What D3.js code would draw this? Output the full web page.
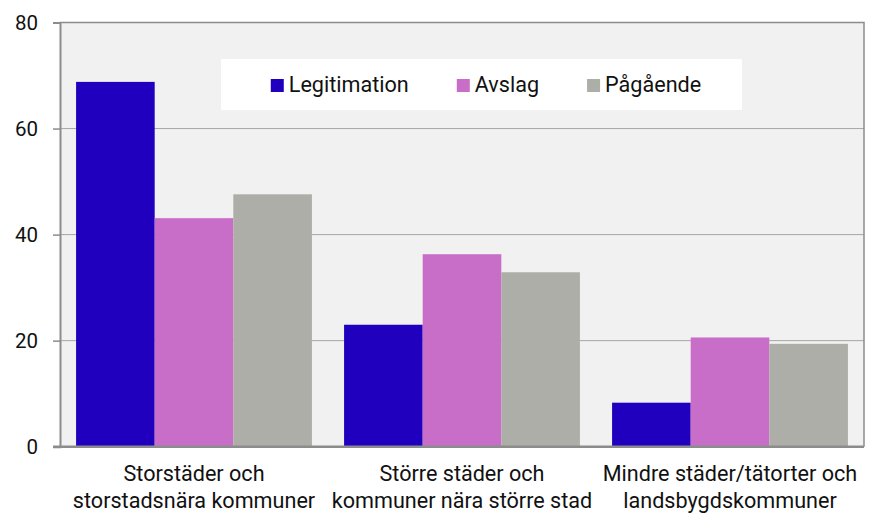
<!DOCTYPE html>
<html><head><meta charset="utf-8">
<script src="https://cdn.jsdelivr.net/npm/d3@7"></script>
<style>
html,body{margin:0;padding:0;background:#fff;}
svg{display:block;font-family:Roboto, "Noto Sans", sans-serif;}
</style></head>
<body>
<svg id="chart" width="871" height="513"></svg>
<script>
const categories = [
  ["Storstäder och", "storstadsnära kommuner"],
  ["Större städer och", "kommuner nära större stad"],
  ["Mindre städer/tätorter och", "landsbygdskommuner"]
];
const seriesNames = ["Legitimation", "Avslag", "Pågående"];
const legitimation = [68.8, 23.0, 8.3];
const avslag = [43.1, 36.3, 20.6];
const pagaende = [47.6, 32.9, 19.4];
const yTicks = [0, 20, 40, 60, 80];
const colors = ["#2000BE", "#C86EC8", "#AEAEA8"];

const seriesValues = [legitimation, avslag, pagaende];
const data = categories.map((c, i) => ({
  key: i,
  values: seriesNames.map((s, j) => ({series: s, value: seriesValues[j][i], color: colors[j]}))
}));

const svg = d3.select("#chart");
const L = 60, R = 864, T = 22.5, B = 446.7;

const x0 = d3.scaleBand().domain(d3.range(categories.length)).range([L, R])
  .paddingInner(0.12).paddingOuter(0.06);
const x1 = d3.scaleBand().domain(seriesNames).range([0, x0.bandwidth()]).padding(0);
const y = d3.scaleLinear().domain([0, 80]).range([B, T]);

// plot background
svg.append("rect").attr("x", L).attr("y", T).attr("width", R - L).attr("height", B - T)
  .attr("fill", "#F1F1F1");

// gridlines
svg.append("g").selectAll("line").data(yTicks.filter(t => t > 0 && t < 80)).join("line")
  .attr("x1", L).attr("x2", R).attr("y1", d => y(d)).attr("y2", d => y(d))
  .attr("stroke", "#A6A6A6").attr("stroke-width", 1);

// bars
const g = svg.append("g").selectAll("g").data(data).join("g")
  .attr("transform", d => `translate(${x0(d.key)},0)`);
g.selectAll("rect").data(d => d.values).join("rect")
  .attr("x", d => x1(d.series)).attr("width", x1.bandwidth())
  .attr("y", d => y(d.value)).attr("height", d => y(0) - y(d.value))
  .attr("fill", d => d.color);

// border top/right
svg.append("path").attr("d", `M${L},${T}H${R}V${B}`).attr("fill", "none")
  .attr("stroke", "#8C8C8C").attr("stroke-width", 1.5);

// y axis
const yAxis = d3.axisLeft(y).tickValues(yTicks).tickSize(7).tickPadding(15)
  .tickFormat(d3.format("d"));
const ya = svg.append("g").attr("transform", `translate(${L},0)`).call(yAxis);
ya.select(".domain").attr("stroke", "#8C8C8C").attr("stroke-width", 2);
ya.selectAll(".tick line").attr("stroke", "#8C8C8C").attr("stroke-width", 1.5);
ya.selectAll("text").attr("font-size", 20.5).attr("fill", "#111").attr("font-family", "Roboto");

// x axis
const xAxis = d3.axisBottom(x0).tickSize(0).tickFormat("");
const xa = svg.append("g").attr("transform", `translate(0,${B})`).call(xAxis);
xa.select(".domain").attr("stroke", "#8C8C8C").attr("stroke-width", 2.5)
  .attr("d", `M${L - 7},0H${R}`);
xa.selectAll(".tick").each(function(d) {
  const t = d3.select(this).append("text").attr("text-anchor", "middle")
    .attr("font-size", 21.6).attr("fill", "#111").attr("font-family", "Roboto");
  categories[d].forEach((line, k) => {
    t.append("tspan").attr("x", 0).attr("y", 34 + k * 27.5).text(line);
  });
});

// legend
const legend = svg.append("g");
legend.append("rect").attr("x", 221).attr("y", 59).attr("width", 521).attr("height", 51)
  .attr("fill", "#fff");
const items = legend.selectAll("g.item").data(seriesNames).join("g").attr("class", "item");
items.append("rect").attr("width", 13).attr("height", 13).attr("y", 79)
  .attr("fill", (d, i) => colors[i]);
items.append("text").attr("x", 18).attr("y", 92).attr("font-size", 21.6)
  .attr("fill", "#111").attr("font-family", "Roboto").text(d => d);
let widths = [];
items.each(function() { widths.push(13 + 5 + d3.select(this).select("text").node().getComputedTextLength()); });
const gap = 48;
const total = d3.sum(widths) + gap * (widths.length - 1);
let cx = 486 - total / 2;
items.each(function(d, i) {
  d3.select(this).attr("transform", `translate(${cx},0)`);
  cx += widths[i] + gap;
});
</script>
</body></html>
